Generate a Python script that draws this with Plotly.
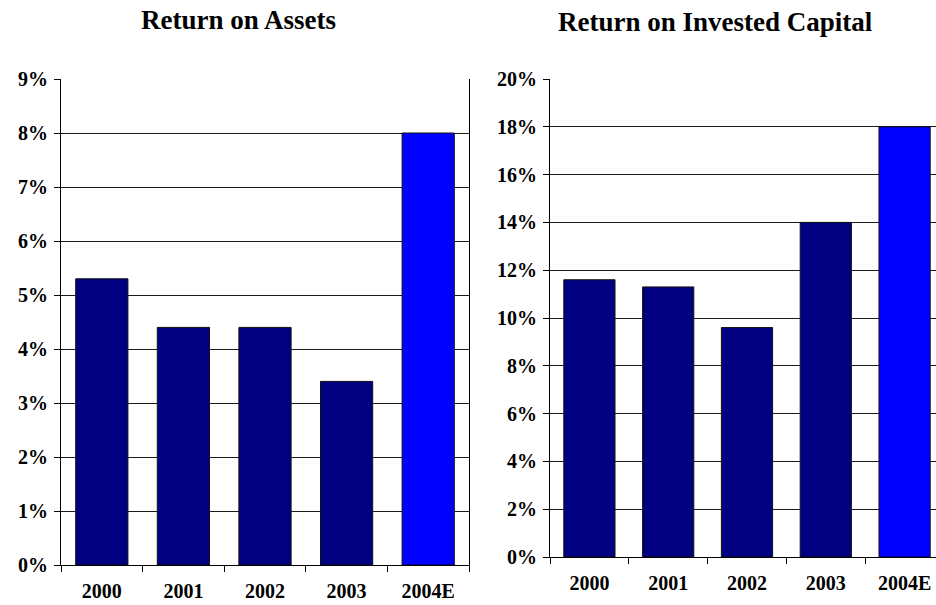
import plotly.graph_objects as go

# Fiscal years shown on both panels
years = ["2000", "2001", "2002", "2003", "2004E"]

# Return on Assets (%)
roa = [5.3, 4.4, 4.4, 3.4, 8.0]

# Return on Invested Capital (%)
roic = [11.6, 11.3, 9.6, 14.0, 18.0]

# Actuals in navy, the estimate year in bright blue
bar_colors = ["#000080", "#000080", "#000080", "#000080", "#0000FF"]

W, H = 936, 605
FONT = "Liberation Serif, Times New Roman, serif"

fig = go.Figure()

fig.add_trace(go.Bar(
    x=years, y=roa, xaxis="x", yaxis="y", width=0.64,
    marker=dict(color=bar_colors, line=dict(color="#111111", width=1)),
    showlegend=False,
))
fig.add_trace(go.Bar(
    x=years, y=roic, xaxis="x2", yaxis="y2", width=0.65,
    marker=dict(color=bar_colors, line=dict(color="#111111", width=1)),
    showlegend=False,
))

tick_font = dict(family=FONT, size=20, color="black", weight="bold")

common_x = dict(
    type="category", showline=True, linecolor="black", linewidth=1,
    ticks="outside", tickson="boundaries", ticklen=6, tickcolor="black",
    tickfont=tick_font, showgrid=False, ticklabelstandoff=8,
    automargin=False, fixedrange=True,
)
common_y = dict(
    showline=True, linecolor="black", linewidth=1,
    ticks="outside", ticklen=6, tickcolor="black", ticksuffix="%",
    tickfont=tick_font, showgrid=True, gridcolor="#1a1a1a", gridwidth=1,
    zeroline=False, ticklabelstandoff=2, automargin=False, fixedrange=True,
)

fig.update_layout(
    width=W, height=H,
    margin=dict(l=0, r=0, t=0, b=0),
    paper_bgcolor="white", plot_bgcolor="white",
    bargap=0.36,
    xaxis=dict(common_x, domain=[61 / W, 469 / W], range=[-0.5, 4.5], anchor="y"),
    yaxis=dict(common_y, domain=[(H - 565) / H, (H - 79) / H], range=[0, 9],
               dtick=1, mirror=True, anchor="x"),
    xaxis2=dict(common_x, domain=[550 / W, 1.0],
                range=[-0.5, (W - 550) / 78.8 - 0.5], anchor="y2"),
    yaxis2=dict(common_y, domain=[(H - 557) / H, (H - 79) / H], range=[0, 20],
                dtick=2, anchor="x2"),
    annotations=[
        dict(text="Return on Assets", x=238 / W, y=(H - 20) / H,
             xref="paper", yref="paper", xanchor="center", yanchor="middle",
             showarrow=False,
             font=dict(family=FONT, size=27, color="black", weight="bold")),
        dict(text="Return on Invested Capital", x=715 / W, y=(H - 22) / H,
             xref="paper", yref="paper", xanchor="center", yanchor="middle",
             showarrow=False,
             font=dict(family=FONT, size=27, color="black", weight="bold")),
    ],
)

fig.write_html("out.html")
